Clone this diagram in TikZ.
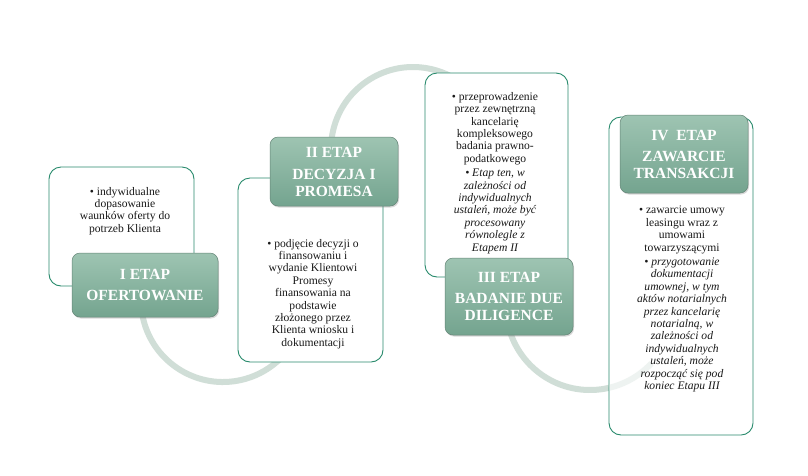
\documentclass[tikz,border=0pt]{standalone}
\usepackage{fontspec}
\setmainfont{Liberation Serif}
\newfontfamily\tnr{Liberation Serif}
\usetikzlibrary{shadows}
\definecolor{boxline}{RGB}{40,138,108}
\definecolor{hdtop}{RGB}{158,196,178}
\definecolor{hdbot}{RGB}{116,164,143}
\definecolor{hdline}{RGB}{100,132,118}
\definecolor{arccol}{RGB}{208,222,215}
\definecolor{bodytext}{RGB}{25,25,25}
\begin{document}
\begin{tikzpicture}[x=1pt,y=-1pt,
  whitebox/.style={draw=boxline, line width=0.9pt, fill=white, rounded corners=12pt, inner sep=0pt},
  header/.style={draw=hdline, line width=0.5pt, top color=hdtop, bottom color=hdbot, rounded corners=8pt, inner sep=0pt,
     drop shadow={shadow xshift=1pt, shadow yshift=-1.5pt, opacity=0.3}},
  hdtext/.style={text=white, font=\tnr\fontsize{15.5}{17}\selectfont\bfseries, align=center, inner sep=0pt},
  bodytxt/.style={text=bodytext, font=\tnr\fontsize{11.6}{12.4}\selectfont, align=center, inner sep=0pt},
  arcline/.style={draw=arccol, line width=6pt}]
\useasboundingbox (0,0) rectangle (808,475);
\fill[white] (0,0) rectangle (808,475);

% background arcs
\coordinate (c1) at (223,300);
\coordinate (c2) at (413,149);
\coordinate (c3) at (590,306);
\draw[arcline] (c1) ++(172:82) arc[start angle=172, end angle=-10, radius=82];
\draw[arcline] (c2) ++(185:82) arc[start angle=185, end angle=335, radius=82];
\draw[arcline] (c3) ++(178:84) arc[start angle=178, end angle=43, radius=84];

% white boxes
\node[whitebox, minimum width=145pt, minimum height=119pt] (b1) at (121.5,226.5) {};
\node[whitebox, minimum width=145pt, minimum height=184pt] (b2) at (310.5,270) {};
\node[whitebox, minimum width=143pt, minimum height=204pt] (b3) at (496.5,175) {};
\node[whitebox, minimum width=144pt, minimum height=318pt] (b4) at (681,276) {};

% faint arc end over box IV
\draw[arcline, opacity=0.35] (c3) ++(77:84) arc[start angle=77, end angle=43, radius=84];

% headers
\node[header, minimum width=146pt, minimum height=64pt] (h1) at (145,285) {};
\node[header, minimum width=128pt, minimum height=69pt] (h2) at (334,171.5) {};
\node[header, minimum width=128pt, minimum height=77pt] (h3) at (509,296.5) {};
\node[header, minimum width=128pt, minimum height=78pt] (h4) at (684,154) {};

\node[hdtext] (t1) at (h1) {I ETAP\\[4pt]OFERTOWANIE};
\node[hdtext] (t2) at (h2) {II ETAP\\[5pt]DECYZJA I\\PROMESA};
\node[hdtext] (t3) at (h3) {III ETAP\\[4pt]BADANIE DUE\\DILIGENCE};
\node[hdtext] (t4) at (h4) {IV\ \ ETAP\\[4pt]ZAWARCIE\\TRANSAKCJI};

% body texts
\node[bodytxt] (x1) at (125,211) {• indywidualne\\dopasowanie\\waunków oferty do\\potrzeb Klienta};
\node[bodytxt] (x2) at (313,294) {• podjęcie decyzji o\\finansowaniu i\\wydanie Klientowi\\Promesy\\finansowania na\\podstawie\\złożonego przez\\Klienta wniosku i\\dokumentacji};
\node[bodytxt] (x3) at (495,173) {• przeprowadzenie\\przez zewnętrzną\\kancelarię\\kompleksowego\\badania prawno-\\podatkowego\\[2pt]
  \itshape • Etap ten, w\\\itshape zależności od\\\itshape indywidualnych\\\itshape ustaleń, może być\\\itshape procesowany\\\itshape równolegle z\\\itshape Etapem II};
\node[bodytxt] (x4) at (682,299) {• zawarcie umowy\\leasingu wraz z\\umowami\\towarzyszącymi\\[2pt]
  \itshape • przygotowanie\\\itshape dokumentacji\\\itshape umownej, w tym\\\itshape aktów notarialnych\\\itshape przez kancelarię\\\itshape notarialną, w\\\itshape zależności od\\\itshape indywidualnych\\\itshape ustaleń, może\\\itshape rozpocząć się pod\\\itshape koniec Etapu III};
\end{tikzpicture}
\end{document}
